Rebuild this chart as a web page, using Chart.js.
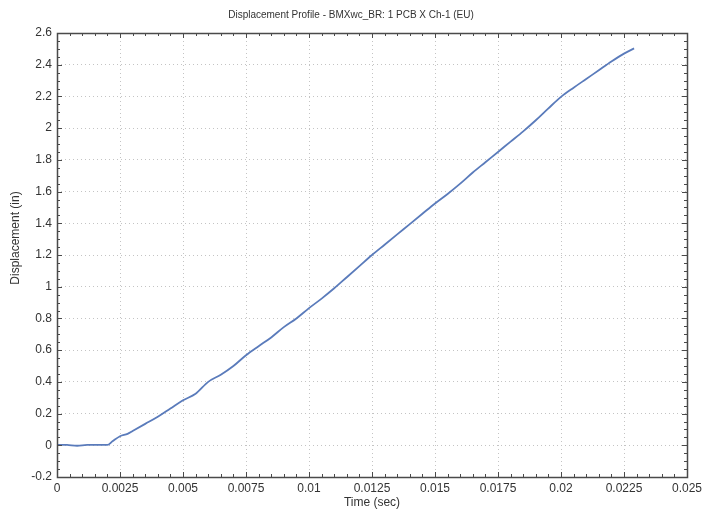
<!DOCTYPE html>
<html>
<head>
<meta charset="utf-8">
<script src="https://cdn.jsdelivr.net/npm/chart.js@4"></script>
<style>
  html, body { margin: 0; padding: 0; background: #fff; }
</style>
</head>
<body>
<canvas id="graph" width="702" height="511"></canvas>
<script>
// values
const timeSec = [0, 0.0004, 0.0008, 0.0012, 0.0016, 0.002, 0.0022, 0.0025, 0.0028, 0.003,
  0.0035, 0.004, 0.0045, 0.005, 0.0055, 0.006, 0.0065, 0.007, 0.0075, 0.008,
  0.0085, 0.009, 0.0095, 0.01, 0.0105, 0.011, 0.0115, 0.012, 0.0125, 0.013,
  0.0135, 0.014, 0.0145, 0.015, 0.0155, 0.016, 0.0165, 0.017, 0.0175, 0.018,
  0.0185, 0.019, 0.0195, 0.02, 0.0205, 0.021, 0.0215, 0.022, 0.0225, 0.0229];
const displacementIn = [0.003, 0.002, -0.003, 0.002, 0.002, 0.002, 0.025, 0.057, 0.072, 0.09,
  0.135, 0.18, 0.232, 0.284, 0.325, 0.40, 0.445, 0.50, 0.568, 0.625,
  0.68, 0.745, 0.80, 0.865, 0.925, 0.99, 1.06, 1.13, 1.20, 1.265,
  1.33, 1.395, 1.46, 1.525, 1.585, 1.65, 1.72, 1.785, 1.85, 1.915,
  1.98, 2.05, 2.125, 2.197, 2.255, 2.31, 2.365, 2.42, 2.47, 2.503];

const xTickLabels = ['0', '0.0025', '0.005', '0.0075', '0.01', '0.0125', '0.015', '0.0175', '0.02', '0.0225', '0.025'];
const yTickLabels = ['-0.2', '0', '0.2', '0.4', '0.6', '0.8', '1', '1.2', '1.4', '1.6', '1.8', '2', '2.2', '2.4', '2.6'];

const chartTitle = 'Displacement Profile - BMXwc_BR: 1 PCB X Ch-1 (EU)';
const xTitle = 'Time (sec)';
const yTitle = 'Displacement (in)';

// frame + inward major/minor ticks on all four sides, y title drawn by hand (sits a bit above centre)
const frame_ticks = {
  id: 'frame_ticks',
  afterDraw(chart) {
    const ctx = chart.ctx;
    const a = chart.chartArea;
    const xs = chart.scales.x, ys = chart.scales.y;
    ctx.save();
    ctx.strokeStyle = '#4a4a4a';
    ctx.lineWidth = 1;
    ctx.beginPath();
    const xt = xs.ticks.map(t => t.value);
    for (let i = 0; i < xt.length; i++) {
      for (let k = 0; k < 5; k++) {
        if (k > 0 && i == xt.length - 1) break;
        const v = xt[i] + k * (xt[1] - xt[0]) / 5;
        const px = Math.round(xs.getPixelForValue(v)) + 0.5;
        const len = k == 0 ? 5 : 3;
        ctx.moveTo(px, a.bottom); ctx.lineTo(px, a.bottom - len);
        ctx.moveTo(px, a.top); ctx.lineTo(px, a.top + len);
      }
    }
    const yt = ys.ticks.map(t => t.value);
    for (let i = 0; i < yt.length; i++) {
      for (let k = 0; k < 4; k++) {
        if (k > 0 && i == yt.length - 1) break;
        const v = yt[i] + k * (yt[1] - yt[0]) / 4;
        const py = Math.round(ys.getPixelForValue(v)) + 0.5;
        const len = k == 0 ? 5 : 3;
        ctx.moveTo(a.left, py); ctx.lineTo(a.left + len, py);
        ctx.moveTo(a.right, py); ctx.lineTo(a.right - len, py);
      }
    }
    ctx.stroke();
    ctx.lineWidth = 1.5;
    ctx.strokeRect(Math.round(a.left) + 0.5, Math.round(a.top) + 0.5, Math.round(a.right - a.left), Math.round(a.bottom - a.top));

    ctx.translate(16, (a.top + a.bottom) / 2 - 17);
    ctx.rotate(-Math.PI / 2);
    ctx.fillStyle = '#333';
    ctx.font = '12px "Liberation Sans"';
    ctx.textAlign = 'center';
    ctx.textBaseline = 'middle';
    ctx.fillText(yTitle, 0, 0);
    ctx.restore();
  }
};

const points = timeSec.map((t, i) => ({x: t, y: displacementIn[i]}));

const config_graph = {
  type: 'line',
  data: {
    datasets: [{
      label: yTitle,
      data: points,
      borderColor: '#5a7bbb',
      borderWidth: 1.8,
      pointRadius: 0,
      cubicInterpolationMode: 'monotone',
      fill: false
    }]
  },
  options: {
    responsive: false,
    animation: false,
    layout: { padding: { right: 0 } },
    plugins: {
      legend: { display: false },
      tooltip: { enabled: false },
      title: {
        display: true,
        text: chartTitle,
        color: '#333',
        font: { family: 'Liberation Sans', size: 10, weight: 'normal' },
        padding: { top: 9, bottom: 12 }
      }
    },
    scales: {
      x: {
        type: 'linear',
        min: 0,
        max: 0.025,
        afterFit(scale) { scale.height = 34; scale.paddingRight = 15; scale.paddingLeft = 0; },
        ticks: {
          stepSize: 0.0025,
          padding: 4,
          color: '#333',
          font: { family: 'Liberation Sans', size: 12 },
          maxRotation: 0,
          callback: (v, i) => xTickLabels[i]
        },
        grid: { color: '#c4c4c4', drawTicks: false },
        border: { display: false, dash: [1, 3] },
        title: {
          display: true,
          text: xTitle,
          color: '#333',
          font: { family: 'Liberation Sans', size: 12 },
          padding: { top: 0, bottom: 1 }
        }
      },
      y: {
        type: 'linear',
        min: -0.2,
        max: 2.6,
        afterFit(scale) { scale.width = 57; },
        ticks: {
          stepSize: 0.2,
          padding: 5,
          color: '#333',
          font: { family: 'Liberation Sans', size: 12 },
          callback: (v, i) => yTickLabels[i]
        },
        grid: { color: '#c4c4c4', drawTicks: false },
        border: { display: false, dash: [1, 3] },
        title: { display: false }
      }
    }
  },
  plugins: [frame_ticks]
};

let graph1 = new Chart(document.getElementById('graph').getContext('2d'), config_graph);
</script>
</body>
</html>
